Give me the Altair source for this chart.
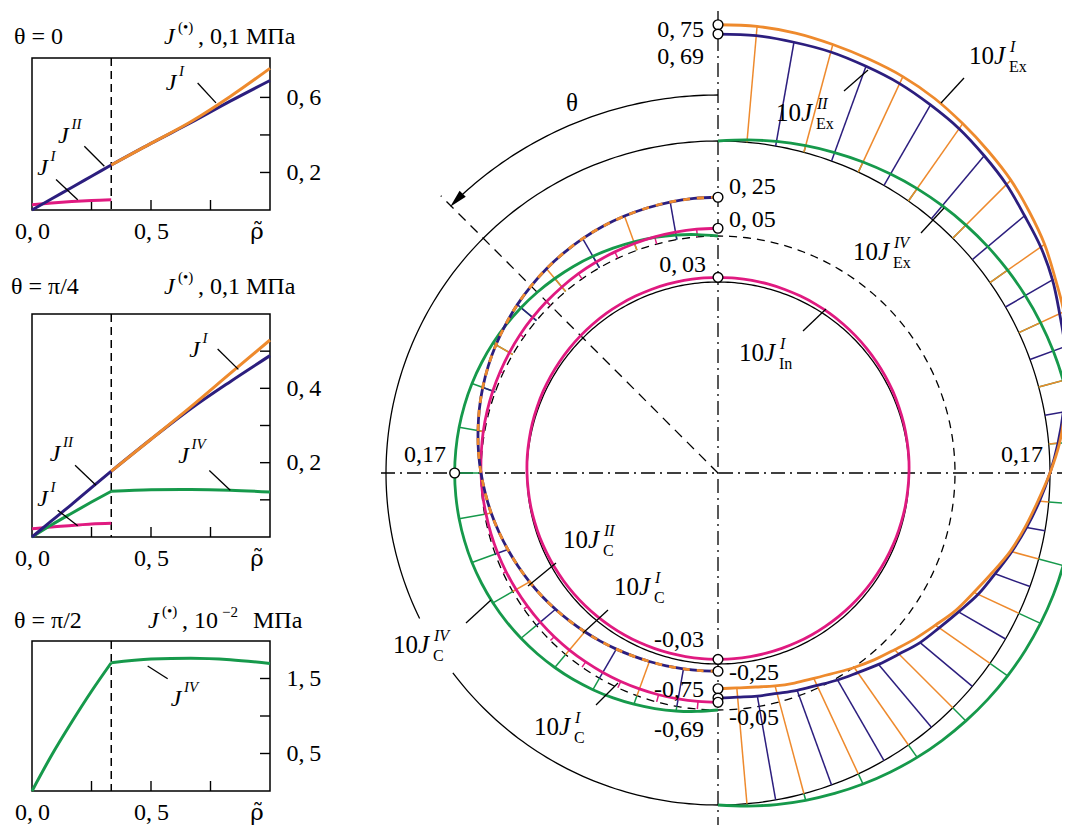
import altair as alt
import pandas as pd

FONT = "Liberation Serif"
ORANGE = "#EE8A2D"
NAVY = "#2C1E7E"
MAGENTA = "#E01A80"
GREEN = "#16994B"
TS = "\u2009"  # thin space after the decimal comma

# ===================== left panels: J vs rho =====================
RHO_C = 0.333
rho_in = [0.0, 0.083, 0.167, 0.25, 0.333]
rho_out = [0.333, 0.5, 0.667, 0.833, 1.0]
rho_all = [0.0, 0.083, 0.167, 0.25, 0.333, 0.5, 0.667, 0.833, 1.0]

# theta = 0   (units 0.1 MPa)
p1_JI_in = [0.028, 0.037, 0.045, 0.051, 0.055]
p1_JII = [0.0, 0.06, 0.12, 0.18, 0.24, 0.355, 0.465, 0.58, 0.69]
p1_JI_out = [0.24, 0.355, 0.47, 0.605, 0.755]
# theta = pi/4 (units 0.1 MPa)
p2_JI_in = [0.022, 0.027, 0.031, 0.035, 0.037]
p2_JII = [0.0, 0.044, 0.088, 0.133, 0.177, 0.263, 0.345, 0.418, 0.488]
p2_JI_out = [0.177, 0.263, 0.35, 0.44, 0.53]
p2_JIV = [0.0, 0.033, 0.064, 0.094, 0.123, 0.127, 0.128, 0.126, 0.121]
# theta = pi/2 (units 1e-2 MPa)
p3_JIV = [0.0, 0.48, 0.92, 1.33, 1.71, 1.76, 1.77, 1.75, 1.70]

x_tick_vals = [0.25, 0.5, 0.75]
x_lab_vals = [0.0, 0.5]
x_lab_txt = ["0," + TS + "0", "0," + TS + "5"]
x_end_txt = "ρ̃"

p1_yticks, p1_ylab, p1_ylab_txt = [0.2, 0.4, 0.6], [0.2, 0.6], ["0," + TS + "2", "0," + TS + "6"]
p2_yticks, p2_ylab, p2_ylab_txt = [0.1, 0.2, 0.3, 0.4, 0.5], [0.2, 0.4], ["0," + TS + "2", "0," + TS + "4"]
p3_yticks, p3_ylab, p3_ylab_txt = [0.5, 1.0, 1.5], [0.5, 1.5], ["0," + TS + "5", "1," + TS + "5"]

panel_titles = ["θ = 0", "θ = π/4", "θ = π/2"]

# labels "J^sup" (centre of J in data coords) and leader lines
p1_ann = [(0.584, 0.677, "I"), (0.132, 0.392, "II"), (0.044, 0.224, "I")]
p1_lead = [(0.696, 0.677, 0.773, 0.571), (0.220, 0.340, 0.304, 0.233), (0.101, 0.162, 0.192, 0.055)]
p2_ann = [(0.683, 0.503, "I"), (0.637, 0.218, "IV"), (0.097, 0.223, "II"), (0.044, 0.102, "I")]
p2_lead = [(0.780, 0.506, 0.867, 0.451), (0.745, 0.179, 0.833, 0.126),
           (0.181, 0.193, 0.269, 0.139), (0.108, 0.072, 0.192, 0.030)]
p3_ann = [(0.605, 1.23, "IV")]
p3_lead = [(0.486, 1.667, 0.570, 1.497)]

PW = 238


def lab_expr(vals, txts):
    e = "''"
    for v, t in zip(vals, txts):
        e = f"abs(datum.value - {v}) < 1e-6 ? '{t}' : ({e})"
    return e


def txt(s, x, y, size=24, italic=False, align="left", font=FONT):
    return alt.Chart(pd.DataFrame({"t": [s]})).mark_text(
        font=font, fontSize=size, fontStyle="italic" if italic else "normal",
        align=align, baseline="middle", color="black"
    ).encode(text="t:N", x=alt.value(x), y=alt.value(y))


def make_panel(curves, ymax, h, yticks, ylab, ylab_txt, head, ann, lead):
    xs = alt.Scale(domain=[0, 1], nice=False, zero=False)
    ys = alt.Scale(domain=[0, ymax], nice=False, zero=False)
    layers = []
    # interface
    layers.append(alt.Chart(pd.DataFrame({"rho": [RHO_C]})).mark_rule(
        color="black", strokeWidth=1.5, strokeDash=[8, 5]).encode(
        x=alt.X("rho:Q", scale=xs, axis=alt.Axis(
            values=x_lab_vals, labelExpr=lab_expr(x_lab_vals, x_lab_txt), ticks=False,
            domain=False, grid=False, title=None, labelFont=FONT, labelFontSize=24,
            labelColor="black", labelPadding=9, labelFlush=False, labelOverlap=False))))
    # inner ticks
    layers.append(alt.Chart(pd.DataFrame({"rho": x_tick_vals})).mark_rule(
        color="black", strokeWidth=1.4).encode(
        x=alt.X("rho:Q", scale=xs), y=alt.value(h), y2=alt.value(h - 10)))
    layers.append(alt.Chart(pd.DataFrame({"J": yticks})).mark_rule(
        color="black", strokeWidth=1.4).encode(
        y=alt.Y("J:Q", scale=ys, axis=alt.Axis(
            orient="right", values=ylab, labelExpr=lab_expr(ylab, ylab_txt), ticks=False,
            domain=False, grid=False, title=None, labelFont=FONT, labelFontSize=24,
            labelColor="black", labelPadding=16, labelFlush=False, labelOverlap=False)),
        x=alt.value(PW), x2=alt.value(PW - 10)))
    # curves
    for name, rr, vv, col in curves:
        rows = []
        for r, v in zip(rr, vv):
            if r <= RHO_C + 1e-9:
                rows.append({"rho": r, "J": v, "seg": "a"})
            if r >= RHO_C - 1e-9:
                rows.append({"rho": r, "J": v, "seg": "b"})
        layers.append(alt.Chart(pd.DataFrame(rows)).mark_line(
            color=col, strokeWidth=3, interpolate="monotone").encode(
            x=alt.X("rho:Q", scale=xs), y=alt.Y("J:Q", scale=ys),
            detail="seg:N", order="rho:Q"))
    # leaders
    ld = pd.DataFrame(lead, columns=["r1", "j1", "r2", "j2"])
    layers.append(alt.Chart(ld).mark_rule(color="black", strokeWidth=1.3).encode(
        x=alt.X("r1:Q", scale=xs), y=alt.Y("j1:Q", scale=ys), x2="r2:Q", y2="j2:Q"))
    an = pd.DataFrame(ann, columns=["rho", "J", "sup"])
    an["m"] = "J"
    layers.append(alt.Chart(an).mark_text(font=FONT, fontSize=24, fontStyle="italic",
                                          align="center", baseline="middle", color="black").encode(
        x=alt.X("rho:Q", scale=xs), y=alt.Y("J:Q", scale=ys), text="m:N"))
    layers.append(alt.Chart(an).mark_text(font=FONT, fontSize=15, fontStyle="italic",
                                          align="left", baseline="middle", dx=8, dy=-12,
                                          color="black").encode(
        x=alt.X("rho:Q", scale=xs), y=alt.Y("J:Q", scale=ys), text="sup:N"))
    # rho-tilde at end of x axis
    layers.append(txt(x_end_txt, PW - 13, h + 22, size=23, align="center", font="DejaVu Serif"))
    # header texts
    for s, x, y, size, it in head:
        layers.append(txt(s, x, y, size=size, italic=it))
    return alt.layer(*layers).properties(
        width=PW, height=h, view=alt.ViewBackground(stroke="black", strokeWidth=1.5))


head1 = [(panel_titles[0], -18, -21, 24, False), ("J", 132, -21, 24, True),
         ("(•)", 146, -31, 15, False), (", 0,1 МПа", 166, -21, 24, False)]
head2 = [(panel_titles[1], -21, -27, 24, False), ("J", 132, -27, 24, True),
         ("(•)", 146, -37, 15, False), (", 0,1 МПа", 166, -27, 24, False)]
head3 = [(panel_titles[2], -18, -20, 24, False), ("J", 116, -20, 24, True),
         ("(•)", 130, -30, 15, False), (", 10", 150, -20, 24, False),
         ("−2", 190, -29, 15, False), ("МПа", 221, -20, 24, False)]

p1 = make_panel([("m", rho_in, p1_JI_in, MAGENTA), ("b", rho_all, p1_JII, NAVY),
                 ("o", rho_out, p1_JI_out, ORANGE)],
                0.81, 152, p1_yticks, p1_ylab, p1_ylab_txt, head1, p1_ann, p1_lead)
p2 = make_panel([("m", rho_in, p2_JI_in, MAGENTA), ("g", rho_all, p2_JIV, GREEN),
                 ("b", rho_all, p2_JII, NAVY), ("o", rho_out, p2_JI_out, ORANGE)],
                0.6, 223, p2_yticks, p2_ylab, p2_ylab_txt, head2, p2_ann, p2_lead)
p3 = make_panel([("g", rho_all, p3_JIV, GREEN)],
                2.0, 150, p3_yticks, p3_ylab, p3_ylab_txt, head3, p3_ann, p3_lead)

# ===================== polar diagram =====================
K = 155.0                      # px per unit of J (0.1 MPa)
R_IN, R_C, R_EX = 191.0, 237.0, 332.0
R_ARC, R_RAD = 378.0, 392.0

th_grid = list(range(0, 181, 5))   # angle from the top, degrees
ex_I = [0.75, 0.75, 0.74, 0.72, 0.70, 0.68, 0.65, 0.61, 0.57, 0.53, 0.48, 0.43, 0.37, 0.32, 0.26,
        0.19, 0.13, 0.07, 0.00, -0.07, -0.13, -0.19, -0.26, -0.32, -0.37, -0.43, -0.48, -0.53,
        -0.57, -0.61, -0.65, -0.68, -0.70, -0.72, -0.74, -0.75, -0.75]
ex_II = [0.69, 0.69, 0.68, 0.67, 0.65, 0.63, 0.60, 0.57, 0.53, 0.49, 0.44, 0.40, 0.35, 0.29, 0.24,
         0.18, 0.12, 0.06, 0.00, -0.06, -0.12, -0.18, -0.24, -0.29, -0.35, -0.40, -0.44, -0.49,
         -0.53, -0.57, -0.60, -0.63, -0.65, -0.67, -0.68, -0.69, -0.69]
ex_IV = [0.000, 0.015, 0.030, 0.044, 0.058, 0.072, 0.085, 0.098, 0.109, 0.120, 0.130, 0.139, 0.147,
         0.154, 0.160, 0.164, 0.167, 0.169, 0.170, 0.169, 0.167, 0.164, 0.160, 0.154, 0.147, 0.139,
         0.130, 0.120, 0.109, 0.098, 0.085, 0.072, 0.058, 0.044, 0.030, 0.015, 0.000]
c_I = [0.250, 0.249, 0.246, 0.241, 0.235, 0.227, 0.217, 0.205, 0.192, 0.177, 0.161, 0.143, 0.125,
       0.106, 0.086, 0.065, 0.043, 0.022, 0.000, -0.022, -0.043, -0.065, -0.086, -0.106, -0.125,
       -0.143, -0.161, -0.177, -0.192, -0.205, -0.217, -0.227, -0.235, -0.241, -0.246, -0.249, -0.250]
c_I_in = [0.050, 0.050, 0.049, 0.048, 0.047, 0.045, 0.043, 0.041, 0.038, 0.035, 0.032, 0.029, 0.025,
          0.021, 0.017, 0.013, 0.009, 0.004, 0.000, -0.004, -0.009, -0.013, -0.017, -0.021, -0.025,
          -0.029, -0.032, -0.035, -0.038, -0.041, -0.043, -0.045, -0.047, -0.048, -0.049, -0.050, -0.050]
c_IV = [0.000, 0.015, 0.030, 0.044, 0.058, 0.072, 0.085, 0.098, 0.109, 0.120, 0.130, 0.139, 0.147,
        0.154, 0.160, 0.164, 0.167, 0.169, 0.170, 0.169, 0.167, 0.164, 0.160, 0.154, 0.147, 0.139,
        0.130, 0.120, 0.109, 0.098, 0.085, 0.072, 0.058, 0.044, 0.030, 0.015, 0.000]
in_I = [0.030, 0.030, 0.030, 0.029, 0.028, 0.027, 0.026, 0.025, 0.023, 0.021, 0.019, 0.017, 0.015,
        0.013, 0.010, 0.008, 0.005, 0.003, 0.000, -0.003, -0.005, -0.008, -0.010, -0.013, -0.015,
        -0.017, -0.019, -0.021, -0.023, -0.025, -0.026, -0.027, -0.028, -0.029, -0.030, -0.030, -0.030]

# name, values, base radius, side (+1 right, -1 left), colour
series = [
    ("ExIV", ex_IV, R_EX, 1, GREEN),
    ("ExII", ex_II, R_EX, 1, NAVY),
    ("ExI", ex_I, R_EX, 1, ORANGE),
    ("CIV", c_IV, R_C, -1, GREEN),
    ("CIin", c_I_in, R_C, -1, MAGENTA),
    ("CI", c_I, R_C, -1, NAVY),
    ("InL", in_I, R_IN, -1, MAGENTA),
    ("InR", in_I, R_IN, 1, MAGENTA),
]
sdf = {}
for name, vals, R, side, col in series:
    sdf[name] = pd.DataFrame({"th": th_grid, "J": vals, "R": R, "side": side, "o": th_grid, "seg": name})

# hatch rules: (series, colour, step, offset)
hatch_spec = [("ExIV", GREEN, 10, 5), ("CIV", GREEN, 10, 0), ("CIin", MAGENTA, 10, 5),
              ("ExII", NAVY, 10, 0), ("ExI", ORANGE, 10, 5),
              ("CI", NAVY, 20, 10), ("CI", ORANGE, 20, 0)]
hrows = []
for name, col, step, off in hatch_spec:
    d = sdf[name]
    sel = d[(d.th % step == off) & (d.th > 0) & (d.th < 180) & (d.J.abs() > 0.002)].copy()
    sel["hc"] = col
    hrows.append(sel)
hatch_df = pd.concat(hrows, ignore_index=True)

# reference circles (geometry)
crow = []
for t in range(0, 361):
    crow.append({"name": "in", "th": t, "R": R_IN})
    crow.append({"name": "c", "th": t, "R": R_C})
    if t <= 116:
        crow.append({"name": "ex_a", "th": t, "R": R_EX})
    if t >= 127:
        crow.append({"name": "ex_b", "th": t, "R": R_EX})
circ = pd.DataFrame(crow)
circ["J"] = 0.0
circ["side"] = -1
circ["o"] = circ["th"]
circ["seg"] = circ["name"]

ARC_END = 43.6
arc = pd.DataFrame({"th": [t * ARC_END / 60 for t in range(61)]})
arc["R"] = R_ARC; arc["J"] = 0.0; arc["side"] = -1; arc["o"] = arc["th"]; arc["seg"] = "arc"
arrow = pd.DataFrame({"th": [ARC_END], "R": [R_ARC], "J": [0.0], "side": [-1]})
radial = pd.DataFrame({"th": [45, 45], "R": [0.0, R_RAD], "J": [0.0, 0.0], "side": [-1, -1],
                       "o": [0, 1], "seg": ["rad", "rad"]})

# end-point markers
mk = []
for name in ["ExI", "ExII", "CI", "CIin", "InL"]:
    d = sdf[name]
    mk.append(d[(d.th == 0) | (d.th == 180)])
d = sdf["CIV"]
mk.append(d[d.th == 90])
mk_df = pd.concat(mk, ignore_index=True)

# value labels: text, X, Y, align
val_labels = [
    ("0," + TS + "75", -14, 443, "right"),
    ("0," + TS + "69", -14, 416, "right"),
    ("0," + TS + "25", 11, 286, "left"),
    ("0," + TS + "05", 11, 253, "left"),
    ("0," + TS + "03", -12, 208, "right"),
    ("0,17", -272, 18, "right"),
    ("0,17", 325, 18, "right"),
    ("-0,03", -14, -167, "right"),
    ("-0,25", 11, -200, "left"),
    ("-0,75", -14, -217, "right"),
    ("-0,05", 11, -245, "left"),
    ("-0,69", -14, -257, "right"),
]
vl_df = pd.DataFrame(val_labels, columns=["t", "X", "Y", "al"])

# "10 J^sup_sub" labels (anchor between "10" and "J") and leader lines
rich = [
    (276, 417, "I", "Ex"), (83, 360, "II", "Ex"), (160, 221, "IV", "Ex"), (46, 120, "I", "In"),
    (-130, -67, "II", "C"), (-79, -114, "I", "C"), (-300, -172, "IV", "C"), (-159, -254, "I", "C"),
]
rich_df = pd.DataFrame(rich, columns=["X", "Y", "sup", "sub"])
rich_df["ten"] = "10"
rich_df["J"] = "J"
leaders = [
    (246, 395, 223, 370), (126, 382, 150, 403), (203, 240, 226, 265), (85, 142, 108, 164),
    (-162, -90, -190, -113), (-110, -137, -135, -160), (-252, -150, -227, -127), (-122, -232, -100, -210),
]
lead_df = pd.DataFrame(leaders, columns=["X1", "Y1", "X2", "Y2"])
theta_lab = pd.DataFrame({"t": ["θ"], "X": [-146], "Y": [370]})

W, H = 686, 814
XS = alt.Scale(domain=[-342, 344], nice=False, zero=False)
YS = alt.Scale(domain=[-352, 462], nice=False, zero=False)


def PX(f):
    return alt.X(f, type="quantitative", scale=XS, axis=None)


def PY(f):
    return alt.Y(f, type="quantitative", scale=YS, axis=None)


def pol(df):
    return alt.Chart(df).transform_calculate(
        px=f"datum.side * (datum.R + {K} * datum.J) * sin(datum.th * PI / 180)",
        py=f"(datum.R + {K} * datum.J) * cos(datum.th * PI / 180)",
        bx="datum.side * datum.R * sin(datum.th * PI / 180)",
        by="datum.R * cos(datum.th * PI / 180)",
    )


def curve(df, color, width=2.8, dash=None, interp="cardinal"):
    kw = dict(color=color, strokeWidth=width, interpolate=interp, clip=True)
    if dash:
        kw["strokeDash"] = dash
    return pol(df).mark_line(**kw).encode(x=PX("px"), y=PY("py"), detail="seg:N", order="o:Q")


one = pd.DataFrame({"a": [0]})
players = []
players.append(curve(circ[circ.name.isin(["in", "ex_a", "ex_b"])], "black", 1.3, interp="linear"))
players.append(curve(circ[circ.name == "c"], "black", 1.3, dash=[8, 6], interp="linear"))
players.append(curve(arc, "black", 1.3, interp="linear"))
players.append(curve(radial, "black", 1.3, dash=[10, 7], interp="linear"))
players.append(pol(arrow).mark_point(shape="M0,-1L0.42,0.75L-0.42,0.75Z", filled=True, fill="black",
                                     opacity=1, size=420, angle=224, strokeWidth=0).encode(
    x=PX("px"), y=PY("py")))
players.append(alt.Chart(one).mark_rule(color="black", strokeWidth=1.3, strokeDash=[14, 5, 2, 5]).encode(
    x=alt.X(datum=0, scale=XS, axis=None), y=alt.value(0), y2=alt.value(H)))
players.append(alt.Chart(one).mark_rule(color="black", strokeWidth=1.3, strokeDash=[14, 5, 2, 5], clip=True).encode(
    y=alt.Y(datum=0, scale=YS, axis=None), x=alt.X(datum=-337, scale=XS, axis=None), x2=alt.value(W)))
players.append(pol(hatch_df).mark_rule(strokeWidth=1.5, clip=True).encode(
    x=PX("bx"), y=PY("by"), x2="px:Q", y2="py:Q", color=alt.Color("hc:N", scale=None)))
players.append(curve(sdf["ExIV"], GREEN))
players.append(curve(sdf["CIV"], GREEN))
players.append(curve(sdf["InL"], MAGENTA))
players.append(curve(sdf["InR"], MAGENTA))
players.append(curve(sdf["CIin"], MAGENTA))
players.append(curve(sdf["ExII"], NAVY))
players.append(curve(sdf["ExI"], ORANGE))
players.append(curve(sdf["CI"], NAVY))
players.append(curve(sdf["CI"], ORANGE, dash=[7, 7]))
players.append(pol(mk_df).mark_point(shape="circle", filled=True, fill="white", stroke="black",
                                     strokeWidth=1.4, size=95, opacity=1).encode(x=PX("px"), y=PY("py")))
for al in ["left", "right"]:
    players.append(alt.Chart(vl_df[vl_df.al == al]).mark_text(
        font=FONT, fontSize=24, align=al, baseline="middle", color="black").encode(
        x=PX("X"), y=PY("Y"), text="t:N"))
players.append(alt.Chart(lead_df).mark_rule(color="black", strokeWidth=1.3).encode(
    x=PX("X1"), y=PY("Y1"), x2="X2:Q", y2="Y2:Q"))
players.append(alt.Chart(rich_df).mark_text(font=FONT, fontSize=25, align="right", baseline="middle",
                                            color="black").encode(x=PX("X"), y=PY("Y"), text="ten:N"))
players.append(alt.Chart(rich_df).mark_text(font=FONT, fontSize=25, fontStyle="italic", align="left",
                                            baseline="middle", color="black").encode(
    x=PX("X"), y=PY("Y"), text="J:N"))
players.append(alt.Chart(rich_df).mark_text(font=FONT, fontSize=16, fontStyle="italic", align="left",
                                            baseline="middle", dx=16, dy=-9, color="black").encode(
    x=PX("X"), y=PY("Y"), text="sup:N"))
players.append(alt.Chart(rich_df).mark_text(font=FONT, fontSize=16, align="left",
                                            baseline="middle", dx=15, dy=11, color="black").encode(
    x=PX("X"), y=PY("Y"), text="sub:N"))
players.append(alt.Chart(theta_lab).mark_text(font=FONT, fontSize=25, align="center", baseline="middle",
                                              color="black").encode(x=PX("X"), y=PY("Y"), text="t:N"))

polar = alt.layer(*players).properties(width=W, height=H)

spacer = alt.Chart(one).mark_point(opacity=0).encode(x=alt.value(0), y=alt.value(0)).properties(width=PW, height=1)
left_panels = alt.vconcat(p1, p2, p3, spacing=104, bounds="flush")
left = alt.vconcat(spacer, left_panels, spacing=46, bounds="flush")

# with flush bounds the nested column counts as zero width, so the spacing spans panel width + gap
chart = alt.hconcat(left, polar, spacing=PW + 106, bounds="flush").properties(
    padding={"left": 2, "top": 0, "right": 0, "bottom": 0}
).configure_view(stroke=None)

chart.save("out.html", embed_options={"renderer": "svg", "actions": False})
